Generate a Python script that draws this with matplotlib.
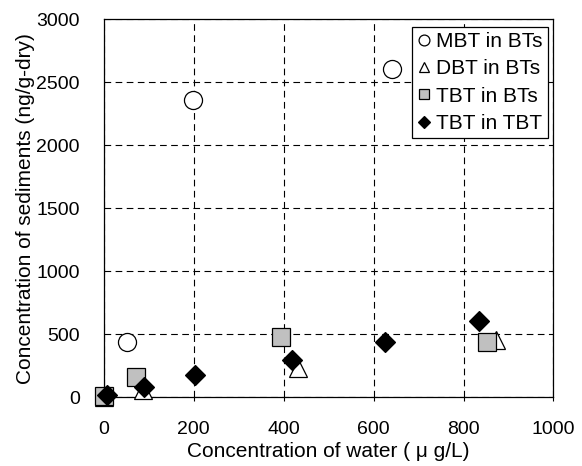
import matplotlib.pyplot as plt
import numpy as np

plt.rcParams['font.family'] = ['Liberation Sans', 'DejaVu Sans']

# data
mbt_x = [52, 199, 641]
mbt_y = [435, 2360, 2600]

dbt_x = [0, 88, 433, 872]
dbt_y = [0, 55, 232, 455]

tbt_bts_x = [0, 72, 395, 853]
tbt_bts_y = [5, 160, 475, 440]

tbt_tbt_x = [8, 90, 203, 418, 626, 834]
tbt_tbt_y = [20, 80, 172, 295, 440, 605]

x_ticks = [0, 200, 400, 600, 800, 1000]
y_ticks = [0, 500, 1000, 1500, 2000, 2500, 3000]

fig = plt.figure(figsize=(5.82, 4.66), dpi=100)
ax = fig.add_axes([0.178, 0.148, 0.773, 0.811])

ax.plot(mbt_x, mbt_y, 'o', ms=13, mfc='white', mec='black', mew=0.9,
        label='MBT in BTs', clip_on=False, zorder=3)
ax.plot(dbt_x, dbt_y, '^', ms=13, mfc='white', mec='black', mew=0.9,
        label='DBT in BTs', clip_on=False, zorder=3)
ax.plot(tbt_bts_x, tbt_bts_y, 's', ms=12.5, mfc='#c0c0c0', mec='black', mew=0.9,
        label='TBT in BTs', clip_on=False, zorder=3)
ax.plot(tbt_tbt_x, tbt_tbt_y, 'D', ms=10, mfc='black', mec='black', mew=0.9,
        label='TBT in TBT', clip_on=False, zorder=3)

ax.set_xlim(0, 1000)
ax.set_ylim(0, 3000)
ax.set_xticks(x_ticks)
ax.set_yticks(y_ticks)
ax.grid(True, color='black', linestyle=(0, (6, 4)), linewidth=0.8)

ax.tick_params(axis='x', direction='out', length=3, width=0.8, pad=14, labelsize=14)
ax.tick_params(axis='y', length=0, pad=17, labelsize=14)
for s in ax.spines.values():
    s.set_linewidth(0.9)
    s.set_color('black')

ax.set_xlabel('Concentration of water ( μ g/L)', fontsize=15, labelpad=3)
ax.set_ylabel('Concentration of sediments (ng/g-dry)', fontsize=15, labelpad=1)

leg = ax.legend(loc='upper right', bbox_to_anchor=(0.988, 0.98), fontsize=15,
                markerscale=0.6, handlelength=0.6, handletextpad=0.3,
                labelspacing=0.4, borderpad=0.25, borderaxespad=0,
                fancybox=False, framealpha=1, edgecolor='black')
leg.get_frame().set_linewidth(0.9)

fig.savefig('out.png', dpi=100)
